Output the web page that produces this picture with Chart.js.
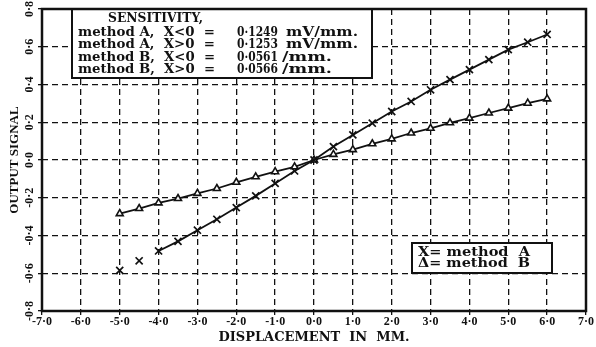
<!DOCTYPE html>
<html>
<head>
<meta charset="utf-8">
<script src="https://cdn.jsdelivr.net/npm/chart.js@4/dist/chart.umd.min.js"></script>
<style>
  html, body { margin: 0; padding: 0; background: #fff; }
  canvas { display: block; }
</style>
</head>
<body>
<canvas id="chart" width="596" height="347"></canvas>
<script>
// Displacement (mm) of each reading
const displacement = [-5.0, -4.5, -4.0, -3.5, -3.0, -2.5, -2.0, -1.5, -1.0, -0.5, 0.0,
                      0.5, 1.0, 1.5, 2.0, 2.5, 3.0, 3.5, 4.0, 4.5, 5.0, 5.5, 6.0];
// Output signal, method A
const methodA = [-0.585, -0.534, -0.482, -0.431, -0.372, -0.314, -0.252, -0.190, -0.124, -0.058, 0.0,
                 0.071, 0.133, 0.195, 0.257, 0.310, 0.372, 0.426, 0.479, 0.532, 0.585, 0.624, 0.665];
// Output signal, method B
const methodB = [-0.284, -0.257, -0.227, -0.204, -0.177, -0.151, -0.118, -0.089, -0.062, -0.036, 0.0,
                 0.030, 0.055, 0.086, 0.112, 0.143, 0.168, 0.197, 0.222, 0.249, 0.275, 0.301, 0.324];
// Method A readings drawn as loose points before the line begins
const methodALineStart = 2;

// Tick labels
const xTickLabels = ['-7·0', '-6·0', '-5·0', '-4·0', '-3·0', '-2·0', '-1·0', '0·0',
                     '1·0', '2·0', '3·0', '4·0', '5·0', '6·0', '7·0'];
const yTickLabels = ['-0·8', '-0·6', '-0·4', '-0·2', '0·0', '0·2', '0·4', '0·6', '0·8'];

// Sensitivity key
const sensitivityTitle = 'SENSITIVITY,';
const sensitivityNames = ['method A,  X<0  =', 'method A,  X>0  =', 'method B,  X<0  =', 'method B,  X>0  ='];
const sensitivityValues = ['0·1249', '0·1253', '0·0561', '0·0566'];
const sensitivityUnits = ['mV/mm.', 'mV/mm.', '/mm.', '/mm.'];
// Marker key
const markerKey = ['X= method  A', 'Δ= method  B'];

const INK = '#111';
const SERIF = '"DejaVu Serif", "Liberation Serif", serif';
const TICK_FONT = { family: '"Liberation Serif", serif', size: 12, weight: 'bold' };

function fitText(ctx, str, x, y, w) {
  const m = ctx.measureText(str).width;
  ctx.save();
  ctx.translate(x, y);
  ctx.scale(w / m, 1);
  ctx.fillText(str, 0, 0);
  ctx.restore();
}

function box(ctx, x, y, w, h) {
  ctx.fillStyle = '#fff';
  ctx.fillRect(x, y, w, h);
  ctx.lineWidth = 2;
  ctx.strokeStyle = INK;
  ctx.strokeRect(x, y, w, h);
}

const keysAndFrame = {
  id: 'keysAndFrame',
  afterDraw(chart) {
    const ctx = chart.ctx;
    const a = chart.chartArea;
    ctx.save();

    // sensitivity key
    box(ctx, 72, a.top, 300, 69);
    ctx.fillStyle = INK;
    ctx.textBaseline = 'middle';
    ctx.textAlign = 'left';
    ctx.font = 'bold 12px ' + SERIF;
    fitText(ctx, sensitivityTitle, 108, 19, 95);
    const rowY = [32.5, 45, 57.5, 70];
    sensitivityNames.forEach((name, i) => {
      fitText(ctx, name, 78, rowY[i], 137);
      fitText(ctx, sensitivityValues[i], 237, rowY[i], 41);
      if (i < 2) fitText(ctx, sensitivityUnits[i], 286, rowY[i], 72);
      else fitText(ctx, sensitivityUnits[i], 282, rowY[i], 50);
    });

    // marker key
    box(ctx, 412, 243, 140, 30);
    ctx.fillStyle = INK;
    ctx.font = 'bold 12px ' + SERIF;
    fitText(ctx, markerKey[0], 418, 252.5, 112);
    fitText(ctx, markerKey[1], 418, 264, 112);

    // plot frame
    ctx.lineWidth = 2.5;
    ctx.strokeStyle = INK;
    ctx.strokeRect(a.left, a.top, a.right - a.left, a.bottom - a.top);
    ctx.restore();
  }
};

const pointsA = displacement.map((x, i) => ({ x, y: methodA[i] }));
const pointsB = displacement.map((x, i) => ({ x, y: methodB[i] }));

new Chart(document.getElementById('chart'), {
  type: 'line',
  data: {
    datasets: [
      {
        label: 'method A',
        data: pointsA,
        borderColor: INK,
        borderWidth: 1.8,
        pointStyle: 'crossRot',
        pointRadius: 5,
        pointBorderWidth: 1.7,
        pointBorderColor: INK,
        pointBackgroundColor: INK,
        tension: 0,
        segment: {
          borderColor: c => (c.p1DataIndex <= methodALineStart ? 'rgba(0,0,0,0)' : INK)
        }
      },
      {
        label: 'method B',
        data: pointsB,
        borderColor: INK,
        borderWidth: 1.8,
        pointStyle: 'triangle',
        pointRadius: 4,
        pointBorderWidth: 1.6,
        pointBorderColor: INK,
        pointBackgroundColor: '#fff',
        tension: 0
      }
    ]
  },
  options: {
    responsive: false,
    animation: false,
    events: [],
    layout: { padding: { top: 9, right: 10, left: 0, bottom: 0 } },
    plugins: { legend: { display: false }, tooltip: { enabled: false } },
    scales: {
      x: {
        type: 'linear',
        min: -7,
        max: 7,
        ticks: {
          stepSize: 1,
          autoSkip: false,
          maxRotation: 0,
          padding: 0,
          color: INK,
          font: TICK_FONT,
          callback: (v, i) => xTickLabels[i]
        },
        grid: { color: INK, lineWidth: 1.3, tickLength: 4, tickColor: INK, tickWidth: 1.3 },
        border: { display: false, dash: [6, 4] },
        title: {
          display: true,
          text: 'DISPLACEMENT  IN  MM.',
          color: INK,
          font: { family: SERIF, size: 13, weight: 'bold' },
          padding: { top: 0, bottom: 2 }
        },
        afterFit: s => { s.height = 36; }
      },
      y: {
        type: 'linear',
        min: -0.8,
        max: 0.8,
        ticks: {
          stepSize: 0.2,
          autoSkip: false,
          minRotation: 90,
          maxRotation: 90,
          crossAlign: 'center',
          padding: -2,
          color: INK,
          font: TICK_FONT,
          callback: (v, i) => yTickLabels[i]
        },
        grid: { color: INK, lineWidth: 1.3, tickLength: 4, tickColor: INK, tickWidth: 1.3 },
        border: { display: false, dash: [6, 4] },
        title: {
          display: true,
          text: 'OUTPUT SIGNAL',
          color: INK,
          font: { family: '"Liberation Serif", serif', size: 13, weight: 'bold' },
          padding: { top: 7, bottom: 0 }
        },
        afterFit: s => { s.width = 42; }
      }
    }
  },
  plugins: [keysAndFrame]
});
</script>
</body>
</html>
